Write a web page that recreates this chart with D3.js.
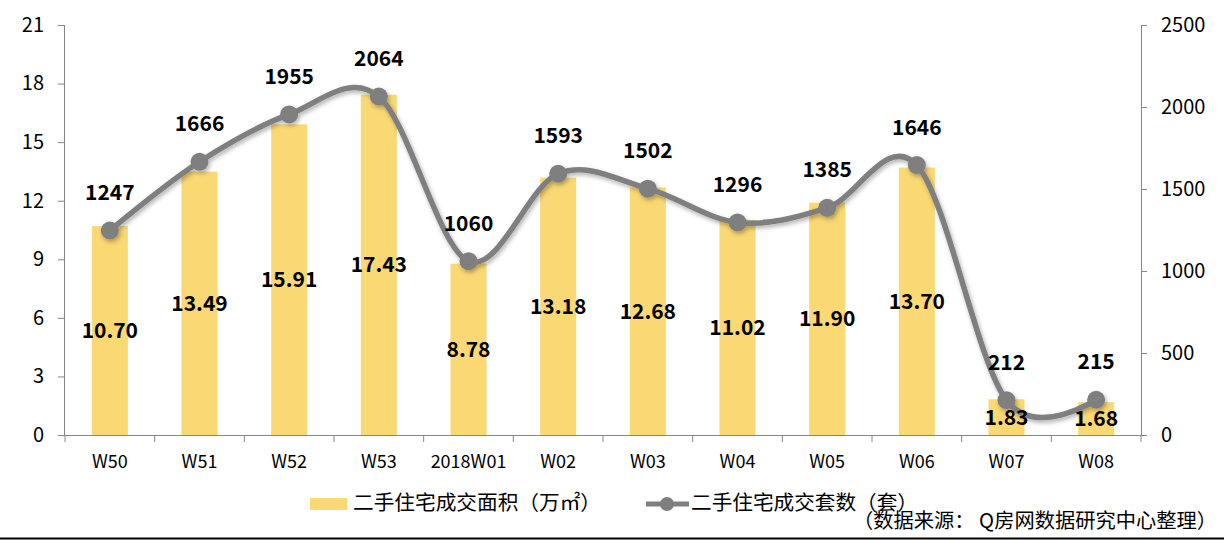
<!DOCTYPE html>
<html><head><meta charset="utf-8">
<script src="https://cdn.jsdelivr.net/npm/d3@7"></script>
<style>body{margin:0;background:#fff}svg{display:block}</style>
</head><body>
<svg id="c" width="1224" height="540"></svg>
<script>
const categories = ["W50","W51","W52","W53","2018W01","W02","W03","W04","W05","W06","W07","W08"];
const areaValues = [10.70,13.49,15.91,17.43,8.78,13.18,12.68,11.02,11.90,13.70,1.83,1.68];
const countValues = [1247,1666,1955,2064,1060,1593,1502,1296,1385,1646,212,215];
const leftTicks = [0,3,6,9,12,15,18,21];
const rightTicks = [0,500,1000,1500,2000,2500];
const legendLabels = ["二手住宅成交面积（万㎡）","二手住宅成交套数（套）"];
const sourceText = "（数据来源： Q房网数据研究中心整理）";

const svg = d3.select("#c");
const font = "'Noto Sans CJK SC', 'Microsoft YaHei', sans-serif";
const L = 65, R = 1141, T = 25, B = 435;
const xb = d3.scaleBand().domain(categories).range([L, R]);
const yL = d3.scaleLinear().domain([0, 21]).range([B, T]);
const yR = d3.scaleLinear().domain([0, 2500]).range([B, T]);

const defs = svg.append("defs");
const f = defs.append("filter").attr("id","sh").attr("x","-10%").attr("y","-10%").attr("width","120%").attr("height","130%");
f.append("feDropShadow").attr("dx",1.5).attr("dy",2.5).attr("stdDeviation",2).attr("flood-color","#000").attr("flood-opacity",0.3);

// bars
svg.append("g").selectAll("rect").data(categories).join("rect")
  .attr("x", d => xb(d) + xb.bandwidth()/2 - 18)
  .attr("width", 36)
  .attr("y", (d,i) => yL(areaValues[i]))
  .attr("height", (d,i) => B - yL(areaValues[i]))
  .attr("fill", "#FAD873");

// axes
const axL = svg.append("g").attr("transform", `translate(${L},0)`)
  .call(d3.axisLeft(yL).tickValues(leftTicks).tickSize(7).tickPadding(14));
const axR = svg.append("g").attr("transform", `translate(${R},0)`)
  .call(d3.axisRight(yR).tickValues(rightTicks).tickFormat(d3.format("d")).tickSize(6).tickPadding(14));
const axB = svg.append("g").attr("transform", `translate(0,${B})`)
  .call(d3.axisBottom(xb).tickSize(0).tickPadding(20));
const bounds = categories.map(c => xb(c)).concat([R]);
svg.append("g").selectAll("line").data(bounds).join("line")
  .attr("x1", d => d).attr("x2", d => d).attr("y1", B).attr("y2", B + 7)
  .attr("stroke", "#868686").attr("stroke-width", 1);
[axL, axR, axB].forEach(a => {
  a.selectAll("path,line").attr("stroke", "#868686");
  a.selectAll("text").attr("font-family", font).attr("font-size", 20).attr("fill", "#000");
});
axB.selectAll("text").attr("font-size", 18);
axL.select(".domain").attr("d", `M-0.5,${T}V${B}`);
axR.select(".domain").attr("d", `M0.5,${T}V${B}`);
axB.select(".domain").attr("d", `M${L},0.5H${R}`);

// line
const cx = d => xb(d) + xb.bandwidth()/2;
const line = d3.line().x((d,i) => cx(categories[i])).y(d => yR(d)).curve(d3.curveCatmullRom.alpha(0));
const lg = svg.append("g").attr("filter","url(#sh)");
lg.append("path").datum(countValues).attr("d", line)
  .attr("fill","none").attr("stroke","#7F7F7F").attr("stroke-width",5.5).attr("stroke-linejoin","round");
lg.selectAll("circle").data(countValues).join("circle")
  .attr("cx", (d,i) => cx(categories[i])).attr("cy", d => yR(d)).attr("r", 9).attr("fill","#7F7F7F");

// labels
svg.append("g").selectAll("text").data(areaValues).join("text")
  .attr("x", (d,i) => cx(categories[i])).attr("y", d => (yL(d) + B)/2)
  .attr("dy","0.36em").attr("text-anchor","middle")
  .attr("font-family", font).attr("font-weight","bold").attr("font-size",21).attr("fill","#000")
  .text(d => d.toFixed(2));
svg.append("g").selectAll("text").data(countValues).join("text")
  .attr("x", (d,i) => cx(categories[i])).attr("y", d => yR(d) - 38)
  .attr("dy","0.36em").attr("text-anchor","middle")
  .attr("font-family", font).attr("font-weight","bold").attr("font-size",21).attr("fill","#000")
  .text(d => d);

// legend
const leg = svg.append("g");
leg.append("rect").attr("x",310).attr("y",498).attr("width",37).attr("height",12).attr("fill","#FAD873");
leg.append("text").attr("x",353).attr("y",503).attr("dy","0.36em").attr("font-family",font).attr("font-size",20)
  .attr("textLength",248).attr("lengthAdjust","spacingAndGlyphs").text(legendLabels[0]);
leg.append("line").attr("x1",646).attr("x2",689).attr("y1",504).attr("y2",504).attr("stroke","#7F7F7F").attr("stroke-width",5);
leg.append("circle").attr("cx",667).attr("cy",504).attr("r",7).attr("fill","#7F7F7F");
leg.append("text").attr("x",691).attr("y",503).attr("dy","0.36em").attr("font-family",font).attr("font-size",20)
  .attr("textLength",227).attr("lengthAdjust","spacingAndGlyphs").text(legendLabels[1]);
svg.append("text").attr("x",853).attr("y",521).attr("dy","0.36em")
  .attr("font-family",font).attr("font-size",20)
  .attr("textLength",364).attr("lengthAdjust","spacingAndGlyphs").text(sourceText);
svg.append("line").attr("x1",0).attr("x2",1224).attr("y1",538.5).attr("y2",538.5).attr("stroke","#000").attr("stroke-width",2);
</script>
</body></html>
